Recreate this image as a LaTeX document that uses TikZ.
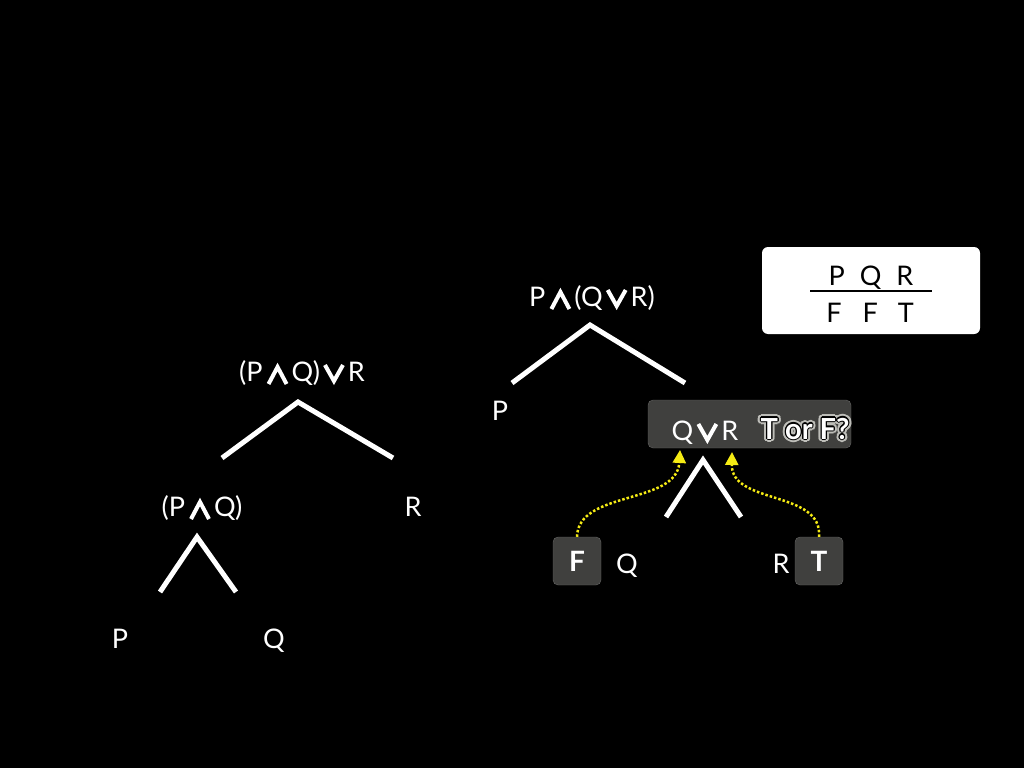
\documentclass[tikz,border=0pt]{standalone}
\usepackage{fontspec}
\setmainfont{Lato}
\usetikzlibrary{arrows.meta}
\definecolor{boxgray}{RGB}{64,64,62}
\definecolor{hintyellow}{RGB}{245,235,20}
\definecolor{halo}{RGB}{190,190,185}
\newcommand{\andop}{\hspace{4pt}\tikz[baseline=3pt, x=1pt, y=1pt]\draw[white, line width=4pt] (0,0) -- (9,17) -- (18,0);\hspace{3pt}}
\newcommand{\orop}{\hspace{3pt}\tikz[baseline=0pt, x=1pt, y=1pt]\draw[white, line width=4pt] (0,16) -- (9,0) -- (18,16);\hspace{3pt}}

\begin{document}
\begin{tikzpicture}[x=1pt, y=-1pt,
    every node/.style={text=white, inner sep=0pt, anchor=base, font=\fontsize{27}{30}\selectfont},
    branch/.style={white, line width=5pt},
    valbox/.style={fill=boxgray, draw=boxgray!80!white, rounded corners=5pt, minimum size=48pt, anchor=center, font=\bfseries\fontsize{28}{30}\selectfont},
    askfont/.style={font=\bfseries\fontsize{29}{30}\selectfont},
    hint/.style={hintyellow, line width=2.5pt, dotted, -{Triangle[width=13pt, length=13pt]}}]
    % Background
    \fill[black] (0,0) rectangle (1024,768);
    \useasboundingbox (0,0) rectangle (1024,768);

    % Left tree: (P and Q) or R
    \node (lroot) at (302,381) {(P\andop Q)\orop R};
    \coordinate (ltop) at (298,402);
    \coordinate (lleft) at (222,458);
    \coordinate (lright) at (393,458);
    \draw[branch] (lleft) -- (ltop) -- (lright);
    \node (lpq) at (202,516) {(P\andop Q)};
    \node (lr) at (413,516) {R};
    \coordinate (pqtop) at (197,537);
    \coordinate (pqleft) at (160,592);
    \coordinate (pqright) at (236,592);
    \draw[branch] (pqleft) -- (pqtop) -- (pqright);
    \node (lp) at (120,648) {P};
    \node (lq) at (274,648) {Q};

    % Right tree: P and (Q or R)
    \node (rroot) at (592,306) {P\andop(Q\orop R)};
    \coordinate (rtop) at (590,325);
    \coordinate (rleft) at (512,383);
    \coordinate (rright) at (685,383);
    \draw[branch] (rleft) -- (rtop) -- (rright);
    \node (rp) at (500,420) {P};

    % Subtree under question
    \node[fill=boxgray, draw=boxgray!80!white, rounded corners=5pt, anchor=center, minimum width=203pt, minimum height=48pt] (qbox) at (749.5,424) {};
    \node (qor) at (705,440) {Q\orop R};
    % glowing question text
    \foreach \a in {0,22.5,...,337.5}
        \node[askfont, text=halo, shift={(\a:3.2)}] at (805,439) {T or F?};
    \foreach \a in {0,30,...,330}
        \node[askfont, text=black, shift={(\a:1.1)}] at (805,439) {T or F?};
    \node[askfont] (tf) at (805,439) {T or F?};
    \coordinate (qtop) at (703,460);
    \coordinate (qleft) at (666,517);
    \coordinate (qright) at (741,517);
    \draw[branch] (qleft) -- (qtop) -- (qright);
    \node (rq) at (627,573) {Q};
    \node (rr) at (781,573) {R};
    \node[valbox] (fval) at (577,561) {F};
    \node[valbox] (tval) at (819,561) {T};

    % Values passed upwards
    \coordinate (fin) at (680,450);
    \coordinate (tin) at (732,452);
    \draw[hint] (fval.north) .. controls (578,490) and (677,505) .. (fin);
    \draw[hint] (tval.north) .. controls (823,490) and (731,505) .. (tin);

    % Truth assignment
    \node[fill=white, rounded corners=6pt, anchor=center, minimum width=218pt, minimum height=87pt] (table) at (871,290.5) {};
    \node[text=black] (thead) at (871,285) {P\hspace{15pt}Q\hspace{15pt}R};
    \node[text=black] (tvals) at (870,322) {F\hspace{21pt}F\hspace{20pt}T};
    \coordinate (rulel) at (810,291);
    \coordinate (ruler) at (932,291);
    \draw[black, line width=2.5pt] (rulel) -- (ruler);
\end{tikzpicture}
\end{document}
